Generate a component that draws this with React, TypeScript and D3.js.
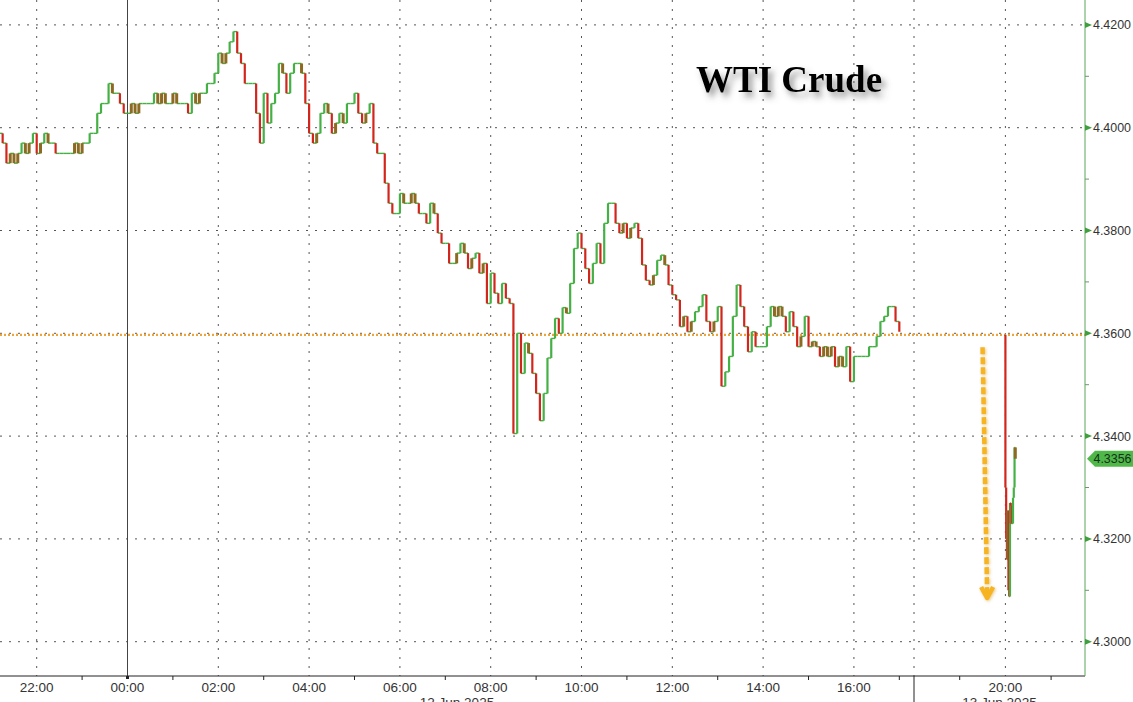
import * as d3 from "d3";
import { useMemo } from "react";

const WIDTH = 1133;
const HEIGHT = 702;

// session 1: 5-minute closes from 21:10 (11 Jun) to 17:00 (12 Jun)
const day1Start = new Date(2025, 5, 11, 21, 10);
const day1StepMinutes = 5;
const day1Values = [
  4.3989, 4.397, 4.3931, 4.395, 4.3931, 4.395, 4.397, 4.395, 4.397, 4.3989,
  4.395, 4.397, 4.3989, 4.397, 4.397, 4.395, 4.395, 4.395, 4.395, 4.395,
  4.397, 4.395, 4.397, 4.397, 4.3989, 4.3989, 4.4028, 4.4047, 4.4047, 4.4086,
  4.4067, 4.4067, 4.4047, 4.4028, 4.4028, 4.4047, 4.4028, 4.4047, 4.4047, 4.4047,
  4.4047, 4.4067, 4.4047, 4.4067, 4.4047, 4.4047, 4.4067, 4.4047, 4.4047, 4.4047,
  4.4028, 4.4067, 4.4047, 4.4067, 4.4067, 4.4086, 4.4086, 4.4106, 4.4145, 4.4125,
  4.4145, 4.4167, 4.4187, 4.4145, 4.4125, 4.4086, 4.4086, 4.4086, 4.4028, 4.397,
  4.4067, 4.4009, 4.4047, 4.4067, 4.4125, 4.4106, 4.4067, 4.4106, 4.4125, 4.4125,
  4.4106, 4.4047, 4.3989, 4.397, 4.3989, 4.4028, 4.4047, 4.4028, 4.3989, 4.4009,
  4.4028, 4.4009, 4.4047, 4.4047, 4.4067, 4.4028, 4.4009, 4.4028, 4.4047, 4.397,
  4.395, 4.395, 4.3892, 4.3853, 4.3833, 4.3833, 4.3872, 4.3853, 4.3853, 4.3872,
  4.3853, 4.3833, 4.3833, 4.3814, 4.3853, 4.3833, 4.3795, 4.3775, 4.3775, 4.3736,
  4.3736, 4.3756, 4.3775, 4.3756, 4.3726, 4.3746, 4.3756, 4.3717, 4.3736, 4.3658,
  4.3717, 4.3678, 4.3658, 4.3697, 4.3668, 4.3658, 4.3405, 4.36, 4.3522, 4.3581,
  4.3561, 4.3522, 4.3483, 4.343, 4.3483, 4.3552, 4.359, 4.3629, 4.36, 4.365,
  4.3639, 4.3697, 4.3765, 4.3795, 4.3765, 4.3726, 4.3697, 4.3736, 4.3775, 4.3736,
  4.3814, 4.3853, 4.3853, 4.3814, 4.3795, 4.3814, 4.3785, 4.3805, 4.3814, 4.3785,
  4.3733, 4.3703, 4.3694, 4.3713, 4.3742, 4.3752, 4.3733, 4.3694, 4.3675, 4.3665,
  4.3613, 4.3633, 4.3603, 4.3623, 4.3642, 4.3652, 4.3675, 4.3623, 4.3603, 4.3623,
  4.3652, 4.3497, 4.3525, 4.3555, 4.3633, 4.3694, 4.3652, 4.3613, 4.3564, 4.3603,
  4.3574, 4.3574, 4.3574, 4.3613, 4.3652, 4.3633, 4.3652, 4.3633, 4.3603, 4.3642,
  4.3613, 4.3574, 4.3594, 4.3633, 4.3574, 4.3584, 4.3574, 4.3555, 4.3574, 4.3555,
  4.3574, 4.3535, 4.3555, 4.3535, 4.3574, 4.3506, 4.3555, 4.3555, 4.3555, 4.3555,
  4.3574, 4.3574, 4.3594, 4.3623, 4.3633, 4.3652, 4.3652, 4.3623, 4.3603,
];

// session 2: 1-minute closes from 19:59 (12 Jun)
const day2Start = new Date(2025, 5, 12, 19, 59);
const day2StepMinutes = 1;
const day2Values = [
  4.3597, 4.33, 4.32, 4.316, 4.3255, 4.31, 4.3088, 4.327, 4.323, 4.3265, 4.323,
  4.328, 4.33, 4.3378, 4.3356,
];

const yTicks = [4.3, 4.32, 4.34, 4.36, 4.38, 4.4, 4.42];
const yMinorTicks = [4.31, 4.33, 4.35, 4.37, 4.39, 4.41];
const prevClose = 4.3597;
const lastPrice = 4.3356;
const title = "WTI Crude";

const sessionLabels = ["12 Jun 2025", "13 Jun 2025"];

// annotation arrow (time, value) start and end
const arrowFrom = { t: new Date(2025, 5, 12, 19, 30), v: 4.3573 };
const arrowTo = { t: new Date(2025, 5, 12, 19, 36), v: 4.3085 };

const GREEN = "#45b045";
const RED = "#d2261c";
const BROWN = "#8d6a22";

function makeTimes(start: Date, step: number, n: number) {
  return d3.range(n).map((i) => d3.timeMinute.offset(start, i * step));
}

type Seg = { x0: number; x1: number; y0: number; y1: number; color: string; w: number };

function buildSegments(
  times: Date[],
  values: number[],
  x: (d: Date) => number,
  y: (v: number) => number
) {
  const horiz: Seg[] = [];
  const vert: Seg[] = [];
  let prevDir = 0;
  for (let i = 1; i < values.length; i++) {
    const x0 = x(times[i - 1]);
    const x1 = x(times[i]);
    const v0 = values[i - 1];
    const v1 = values[i];
    horiz.push({ x0, x1, y0: y(v0), y1: y(v0), color: GREEN, w: 1.4 });
    if (v1 !== v0) {
      const dir = v1 > v0 ? 1 : -1;
      const small = Math.abs(v1 - v0) < 0.0026;
      const reversal = prevDir !== 0 && dir !== prevDir;
      const chop = small && reversal;
      const color = chop ? BROWN : dir > 0 ? GREEN : RED;
      vert.push({ x0: x1, x1, y0: y(v0), y1: y(v1), color, w: chop ? 3 : 2.2 });
      prevDir = dir;
    }
  }
  return { horiz, vert };
}

export default function App() {
  const plotRight = 1085;
  const plotBottom = 676;

  const x = useMemo(
    () =>
      d3
        .scaleTime()
        .domain([
          new Date(2025, 5, 11, 21, 11, 30),
          new Date(2025, 5, 12, 17, 19, 24),
          new Date(2025, 5, 12, 18, 0),
          new Date(2025, 5, 12, 21, 44, 30),
        ])
        .range([0, 914, 914, plotRight]),
    []
  );
  const y = useMemo(() => d3.scaleLinear().domain([4.3, 4.42]).range([641.7, 24.9]), []);

  const s1 = useMemo(() => {
    const t = makeTimes(day1Start, day1StepMinutes, day1Values.length);
    return buildSegments(t, day1Values, x, y);
  }, [x, y]);
  const s2 = useMemo(() => {
    const t = makeTimes(day2Start, day2StepMinutes, day2Values.length);
    return buildSegments(t, day2Values, x, y);
  }, [x, y]);

  const hours = d3.timeHour.range(new Date(2025, 5, 11, 22), new Date(2025, 5, 12, 22));
  const sessionBreak = x(new Date(2025, 5, 12, 18, 0));
  const midnight = x(new Date(2025, 5, 12, 0, 0));

  const ax0 = x(arrowFrom.t);
  const ay0 = y(arrowFrom.v);
  const ax1 = x(arrowTo.t);
  const ay1 = y(arrowTo.v);

  const ly = y(lastPrice);

  const font = "'Liberation Sans', Arial, sans-serif";

  return (
    <svg
      width={WIDTH}
      height={HEIGHT}
      style={{ position: "fixed", left: 0, top: 0, background: "#fff", display: "block" }}
    >
      <defs>
        <filter id="titleShadow" x="-10%" y="-30%" width="130%" height="180%">
          <feDropShadow dx="4" dy="5" stdDeviation="3" floodColor="#555" floodOpacity="0.6" />
        </filter>
        <filter id="arrowGlow" x="-50%" y="-10%" width="200%" height="120%">
          <feDropShadow dx="1" dy="1" stdDeviation="1.5" floodColor="#c98a10" floodOpacity="0.45" />
        </filter>
      </defs>
      <rect x={0} y={0} width={WIDTH} height={HEIGHT} fill="#fff" />

      {/* horizontal grid */}
      {yTicks.map((t) => (
        <line
          key={`hg${t}`}
          x1={0}
          x2={plotRight}
          y1={y(t)}
          y2={y(t)}
          stroke="#555"
          strokeWidth={1}
          strokeDasharray="2,7"
        />
      ))}

      {/* vertical grid */}
      {hours
        .filter((h) => h.getHours() % 2 === 0 && h.getHours() !== 0)
        .map((h) => (
          <line
            key={`vg${h.getTime()}`}
            x1={x(h)}
            x2={x(h)}
            y1={0}
            y2={plotBottom}
            stroke="#555"
            strokeWidth={1}
            strokeDasharray="2,7"
          />
        ))}
      <line x1={midnight} x2={midnight} y1={0} y2={plotBottom} stroke="#444" strokeWidth={1} />

      {/* previous close */}
      <line
        x1={0}
        x2={plotRight}
        y1={y(prevClose)}
        y2={y(prevClose)}
        stroke="#eda43a"
        strokeWidth={2.2}
        strokeDasharray="2,2"
      />

      {/* price path */}
      {[s1, s2].map((s, k) => (
        <g key={`s${k}`}>
          {s.horiz.map((d, i) => (
            <line key={`h${i}`} x1={d.x0} x2={d.x1} y1={d.y0} y2={d.y1} stroke={d.color} strokeWidth={d.w} />
          ))}
          {s.vert.map((d, i) => (
            <line key={`v${i}`} x1={d.x0} x2={d.x1} y1={d.y0} y2={d.y1} stroke={d.color} strokeWidth={d.w} />
          ))}
        </g>
      ))}

      {/* arrow annotation */}
      <g filter="url(#arrowGlow)" stroke="#f6b324" fill="none" strokeWidth={4.5}>
        <line x1={ax0} y1={ay0} x2={ax1} y2={ay1 - 4} strokeDasharray="7,3" />
        <polyline
          points={`${ax1 - 6},${ay1 - 11} ${ax1},${ay1} ${ax1 + 6},${ay1 - 11}`}
          strokeLinejoin="round"
        />
      </g>

      {/* title */}
      <text
        x={696}
        y={92}
        fontFamily="'Liberation Serif', 'Times New Roman', serif"
        fontWeight="bold"
        fontSize={37}
        fill="#000"
        filter="url(#titleShadow)"
      >
        {title}
      </text>

      {/* bottom axis */}
      <line x1={0} x2={plotRight} y1={plotBottom} y2={plotBottom} stroke="#222" strokeWidth={1} />
      {hours
        .filter((h) => h.getHours() % 2 === 1)
        .map((h) => (
          <line
            key={`mt${h.getTime()}`}
            x1={x(h)}
            x2={x(h)}
            y1={plotBottom}
            y2={plotBottom + 4}
            stroke="#222"
          />
        ))}
      <rect x={midnight - 1.5} y={plotBottom} width={3} height={3} fill="#222" />
      <line x1={sessionBreak} x2={sessionBreak} y1={plotBottom} y2={HEIGHT} stroke="#222" />
      {hours
        .filter((h) => h.getHours() % 2 === 0 && h.getHours() !== 18)
        .map((h) => (
          <text
            key={`xl${h.getTime()}`}
            x={x(h)}
            y={692}
            textAnchor="middle"
            fontFamily={font}
            fontSize={13.5}
            fill="#333"
          >
            {d3.timeFormat("%H:%M")(h)}
          </text>
        ))}
      <text x={sessionBreak / 2} y={707} textAnchor="middle" fontFamily={font} fontSize={13.5} fill="#333">
        {sessionLabels[0]}
      </text>
      <text
        x={(sessionBreak + plotRight) / 2}
        y={707}
        textAnchor="middle"
        fontFamily={font}
        fontSize={13.5}
        fill="#333"
      >
        {sessionLabels[1]}
      </text>

      {/* right axis */}
      <line x1={plotRight} x2={plotRight} y1={0} y2={plotBottom} stroke="#5aa55a" strokeWidth={1} />
      {yMinorTicks.map((t) => (
        <line key={`ym${t}`} x1={plotRight} x2={plotRight + 4} y1={y(t)} y2={y(t)} stroke="#6a9a6a" />
      ))}
      {yTicks.map((t) => (
        <g key={`yt${t}`}>
          <polygon
            points={`${plotRight},${y(t) - 3} ${plotRight + 7},${y(t)} ${plotRight},${y(t) + 3}`}
            fill="#3f9f3f"
          />
          <text
            x={plotRight + 8}
            y={y(t) + 4.5}
            fontFamily={font}
            fontSize={13}
            fill="#333"
            textLength={38}
            lengthAdjust="spacingAndGlyphs"
          >
            {t.toFixed(4)}
          </text>
        </g>
      ))}

      {/* last price tag */}
      <polygon
        points={`${plotRight + 2},${ly} ${plotRight + 10},${ly - 8} ${WIDTH},${ly - 8} ${WIDTH},${ly + 8} ${plotRight + 10},${ly + 8}`}
        fill="#4fb848"
      />
      <text
        x={plotRight + 8.5}
        y={ly + 4.5}
        fontFamily={font}
        fontSize={13}
        fill="#13301a"
        textLength={38}
        lengthAdjust="spacingAndGlyphs"
      >
        {lastPrice.toFixed(4)}
      </text>
    </svg>
  );
}
